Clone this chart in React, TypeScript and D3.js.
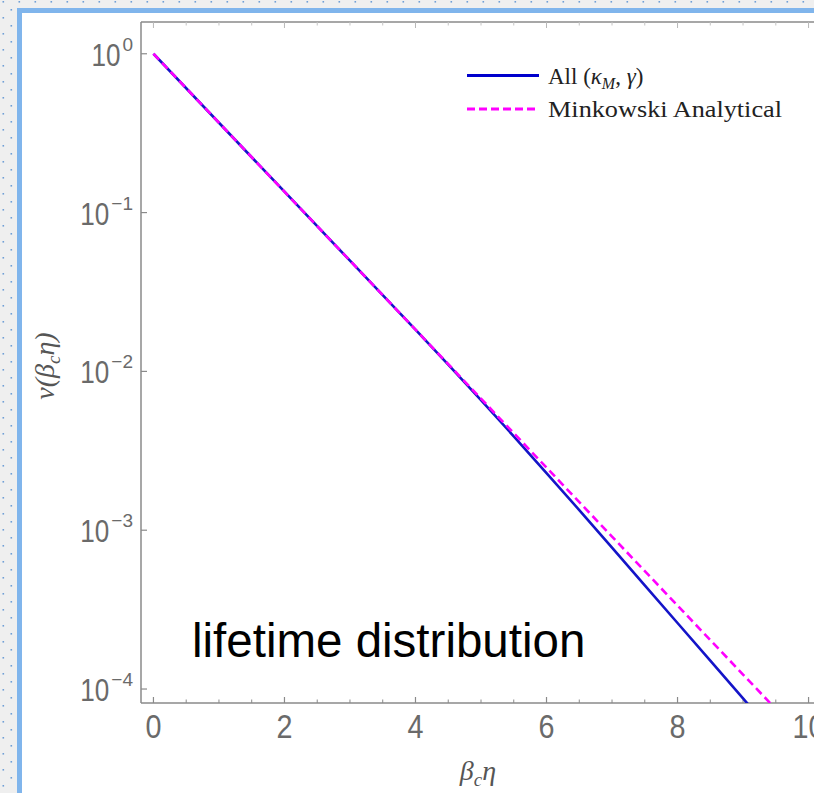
import React, { useEffect, useRef } from "react"
import * as d3 from "d3"

const W = 814
const H = 793

// tick values
const xMajor = [0, 2, 4, 6, 8, 10]
const xMinor = [0.5, 1, 1.5, 2.5, 3, 3.5, 4.5, 5, 5.5, 6.5, 7, 7.5, 8.5, 9, 9.5]
const yExponents = [0, -1, -2, -3, -4]

// All (kappa_M, gamma)
const allX = [0, 1, 2, 3, 4, 4.5, 5, 5.5, 6, 6.5, 7, 7.5, 8, 8.5, 9, 9.2]
const allNu = [
    1, 0.3679, 0.1353, 0.04979, 0.01832, 0.01103, 0.006584, 0.003903,
    0.002287, 0.00134, 0.0007761, 0.0004496, 0.0002604, 0.0001509,
    0.00008737, 0.00006989,
]

// Minkowski analytical
const minkX = [0, 1, 2, 3, 4, 5, 6, 7, 8, 9, 10]
const minkNu = [
    1, 0.3679, 0.1353, 0.04979, 0.01832, 0.006738, 0.002479, 0.0009119,
    0.0003355, 0.0001234, 0.0000454,
]

const SANS = "'Liberation Sans', Arial, sans-serif"
const SERIF = "'Liberation Serif', 'Times New Roman', serif"

const App = () => {
    const svgRef = useRef<SVGSVGElement | null>(null)

    useEffect(() => {
        if (!svgRef.current) return
        const svg = d3.select(svgRef.current)
        svg.selectAll("*").remove()

        const left = 141
        const right = 821
        const top = 22
        const bottom = 703

        const x = d3.scaleLinear().domain([-0.19, 10.19]).range([left, right])
        const y = d3
            .scaleLog()
            .domain([Math.pow(10, -4.088), Math.pow(10, 0.2)])
            .range([bottom, top])

        // page background with dots
        const defs = svg.append("defs")
        const pat = defs
            .append("pattern")
            .attr("id", "dots")
            .attr("width", 16)
            .attr("height", 16)
            .attr("patternUnits", "userSpaceOnUse")
        pat.append("rect").attr("width", 16).attr("height", 16).attr("fill", "#efefef")
        pat.append("rect").attr("x", 2.5).attr("y", 1).attr("width", 1.6).attr("height", 1.6).attr("fill", "#6f9fd6")
        pat.append("rect").attr("x", 10.5).attr("y", 9).attr("width", 1.6).attr("height", 1.6).attr("fill", "#6f9fd6")

        defs.append("clipPath")
            .attr("id", "plotclip")
            .append("rect")
            .attr("x", left)
            .attr("y", top)
            .attr("width", right - left)
            .attr("height", bottom - top)

        svg.append("rect").attr("width", W).attr("height", H).attr("fill", "url(#dots)")
        svg.append("rect")
            .attr("x", 17)
            .attr("y", 8)
            .attr("width", W)
            .attr("height", H)
            .attr("fill", "#80b5ec")
        svg.append("rect")
            .attr("x", 22)
            .attr("y", 13)
            .attr("width", W)
            .attr("height", H)
            .attr("fill", "#ffffff")

        // frame
        const axisColor = "#8a8a8a"
        const frame = [
            [left, bottom, right, bottom],
            [left, top, right, top],
            [left, top, left, bottom],
            [right, top, right, bottom],
        ]
        frame.forEach((f) => {
            svg.append("line")
                .attr("x1", f[0]).attr("y1", f[1])
                .attr("x2", f[2]).attr("y2", f[3])
                .attr("stroke", axisColor).attr("stroke-width", 1.5)
        })

        // x ticks, bottom and top
        const ticks = svg.append("g")
        xMajor.forEach((v) => {
            ticks.append("line")
                .attr("x1", x(v)).attr("x2", x(v))
                .attr("y1", bottom).attr("y2", bottom - 6)
                .attr("stroke", axisColor).attr("stroke-width", 1.2)
            ticks.append("line")
                .attr("x1", x(v)).attr("x2", x(v))
                .attr("y1", top).attr("y2", top + 6)
                .attr("stroke", "#b8b8b8").attr("stroke-width", 1)
        })
        xMinor.forEach((v) => {
            ticks.append("line")
                .attr("x1", x(v)).attr("x2", x(v))
                .attr("y1", bottom).attr("y2", bottom - 3.5)
                .attr("stroke", axisColor).attr("stroke-width", 1)
            ticks.append("line")
                .attr("x1", x(v)).attr("x2", x(v))
                .attr("y1", top).attr("y2", top + 3.5)
                .attr("stroke", "#c4c4c4").attr("stroke-width", 1)
        })

        // y ticks
        yExponents.forEach((e) => {
            const yy = y(Math.pow(10, e))
            ticks.append("line")
                .attr("x1", left).attr("x2", left + 6)
                .attr("y1", yy).attr("y2", yy)
                .attr("stroke", axisColor).attr("stroke-width", 1.2)
        })

        // x tick labels
        svg.append("g")
            .selectAll("text")
            .data(xMajor)
            .enter()
            .append("text")
            .attr("x", (d) => x(d))
            .attr("y", 738)
            .attr("text-anchor", "middle")
            .attr("font-family", SANS)
            .attr("font-size", 33)
            .attr("fill", "#6a6a6a")
            .attr("textLength", (d) => (d >= 10 ? 32 : 16))
            .attr("lengthAdjust", "spacingAndGlyphs")
            .text((d) => d)

        // y tick labels 10^e
        const yl = svg.append("g")
        yExponents.forEach((e) => {
            const yy = y(Math.pow(10, e))
            const sup = yl.append("text")
                .attr("x", 133)
                .attr("y", yy - 3)
                .attr("text-anchor", "end")
                .attr("font-family", SANS)
                .attr("font-size", 19)
                .attr("fill", "#6a6a6a")
                .text(e === 0 ? "0" : "\u2212" + Math.abs(e))
            const sw = (sup.node() as SVGTextElement).getComputedTextLength()
            yl.append("text")
                .attr("x", 133 - sw - 2)
                .attr("y", yy + 12)
                .attr("text-anchor", "end")
                .attr("font-family", SANS)
                .attr("font-size", 31)
                .attr("fill", "#6a6a6a")
                .attr("textLength", 29)
                .attr("lengthAdjust", "spacingAndGlyphs")
                .text("10")
        })

        // curves
        const line = d3
            .line<[number, number]>()
            .x((d) => x(d[0]))
            .y((d) => y(d[1]))

        const plot = svg.append("g").attr("clip-path", "url(#plotclip)")
        plot.append("path")
            .datum(allX.map((v, i) => [v, allNu[i]] as [number, number]))
            .attr("d", line)
            .attr("fill", "none")
            .attr("stroke", "#1414c8")
            .attr("stroke-width", 2.6)
        plot.append("path")
            .datum(minkX.map((v, i) => [v, minkNu[i]] as [number, number]))
            .attr("d", line)
            .attr("fill", "none")
            .attr("stroke", "#ff00ff")
            .attr("stroke-width", 2.6)
            .attr("stroke-dasharray", "8,4.5")

        // legend
        const lg = svg.append("g")
        lg.append("line")
            .attr("x1", 467).attr("x2", 539)
            .attr("y1", 75.5).attr("y2", 75.5)
            .attr("stroke", "#0000cc").attr("stroke-width", 3)
        lg.append("line")
            .attr("x1", 467).attr("x2", 539)
            .attr("y1", 109).attr("y2", 109)
            .attr("stroke", "#ff00ff").attr("stroke-width", 3)
            .attr("stroke-dasharray", "8,4")

        const t1 = lg.append("text")
            .attr("x", 548)
            .attr("y", 84)
            .attr("font-family", SERIF)
            .attr("font-size", 23)
            .attr("fill", "#222")
        t1.append("tspan").text("All (")
        t1.append("tspan").attr("font-style", "italic").text("\u03ba")
        t1.append("tspan").attr("font-style", "italic").attr("font-size", 16).attr("dy", 5).text("M")
        t1.append("tspan").attr("dy", -5).text(", ")
        t1.append("tspan").attr("font-style", "italic").text("\u03b3")
        t1.append("tspan").text(")")

        lg.append("text")
            .attr("x", 548)
            .attr("y", 116.5)
            .attr("font-family", SERIF)
            .attr("font-size", 23)
            .attr("fill", "#222")
            .attr("textLength", 234)
            .attr("lengthAdjust", "spacingAndGlyphs")
            .text("Minkowski Analytical")

        // axis labels
        const xl = svg.append("text")
            .attr("x", 478)
            .attr("y", 780)
            .attr("text-anchor", "middle")
            .attr("font-family", SERIF)
            .attr("font-style", "italic")
            .attr("font-size", 28)
            .attr("fill", "#555")
        xl.append("tspan").text("\u03b2")
        xl.append("tspan").attr("font-size", 19).attr("dy", 6).text("c")
        xl.append("tspan").attr("dy", -6).text("\u03b7")

        const ylab = svg.append("text")
            .attr("transform", "translate(54,366) rotate(-90)")
            .attr("text-anchor", "middle")
            .attr("font-family", SERIF)
            .attr("font-style", "italic")
            .attr("font-size", 28)
            .attr("fill", "#555")
        ylab.append("tspan").text("\u03bd(\u03b2")
        ylab.append("tspan").attr("font-size", 19).attr("dy", 6).text("c")
        ylab.append("tspan").attr("dy", -6).text("\u03b7)")

        // overlay caption
        svg.append("text")
            .attr("x", 192)
            .attr("y", 657)
            .attr("font-family", SANS)
            .attr("font-size", 47.5)
            .attr("fill", "#000")
            .text("lifetime distribution")
    }, [])

    return (
        <svg
            ref={svgRef}
            width={W}
            height={H}
            style={{ position: "absolute", left: 0, top: 0, display: "block" }}
        />
    )
}

export default App
